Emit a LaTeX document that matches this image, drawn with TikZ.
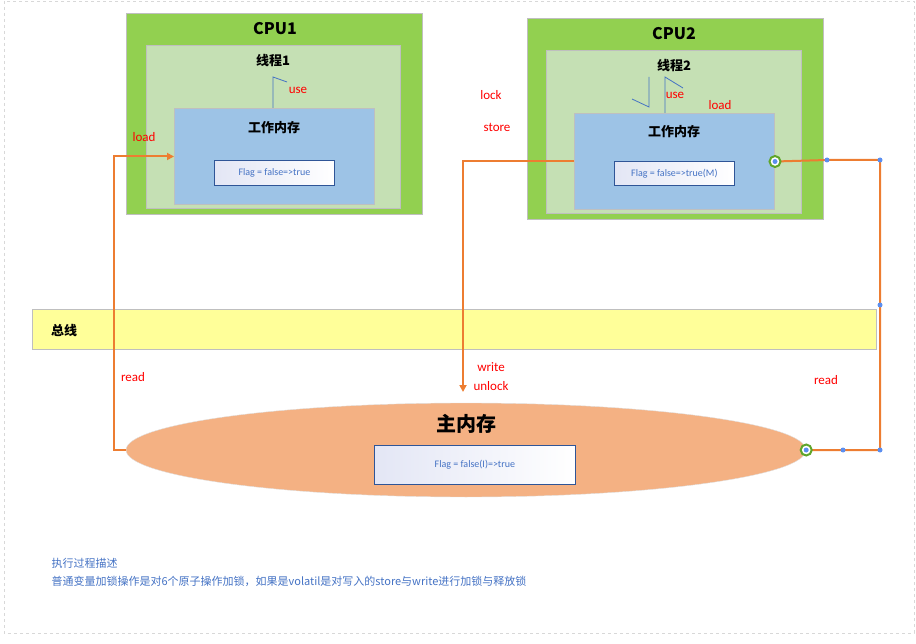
\documentclass[tikz,border=0pt]{standalone}
\usepackage{fontspec}
\setmainfont{Carlito}
\newfontfamily\cjk{Noto Sans CJK SC}
\usetikzlibrary{arrows.meta,shapes.geometric}
\definecolor{cpugreen}{HTML}{92D050}
\definecolor{thgreen}{HTML}{C5E0B4}
\definecolor{wmblue}{HTML}{9DC3E6}
\definecolor{bordergray}{HTML}{BFBFBF}
\definecolor{busyellow}{HTML}{FFFF99}
\definecolor{memorange}{HTML}{F4B183}
\definecolor{orng}{HTML}{ED7D31}
\definecolor{txtblue}{HTML}{4472C4}
\definecolor{flagblue}{HTML}{2F5597}
\definecolor{dotblue}{HTML}{5B8FF0}
\definecolor{ringgreen}{HTML}{5FA52A}
\definecolor{lav}{HTML}{E3E6F5}
\tikzset{
  box/.style={draw=bordergray, line width=1pt, anchor=north west, inner sep=0pt},
  flagbox/.style={draw=flagblue, line width=0.8pt, anchor=north west, inner sep=0pt,
     left color=lav, right color=white},
  flagtxt/.style={font=\fontsize{10}{12}\selectfont, text=txtblue},
  title/.style={font=\cjk\bfseries\fontsize{16}{18}\selectfont},
  sub/.style={font=\cjk\bfseries\fontsize{13}{15}\selectfont},
  redlbl/.style={text=red, font=\fontsize{13}{15}\selectfont},
  desc/.style={anchor=west, text=txtblue, font=\cjk\fontsize{11}{13}\selectfont},
  conn/.style={draw=orng, line width=2pt},
  thin/.style={draw=txtblue, line width=0.8pt},
  dot/.style={circle, fill=dotblue, inner sep=0pt, minimum size=5pt},
  ring/.style={circle, draw=ringgreen, fill=white, line width=2pt, inner sep=0pt, minimum size=11pt},
}
\begin{document}
\begin{tikzpicture}[x=1pt,y=-1pt]
\useasboundingbox (0,0) rectangle (916,644);
\draw[bordergray!60, dashed, line width=0.8pt] (4,1) rectangle (914,633);

% CPU1
\node (cpu1) [box, fill=cpugreen, minimum width=296pt, minimum height=201pt] at (126,13) {};
\node (th1) [box, fill=thgreen, minimum width=254pt, minimum height=163pt] at (146,45) {};
\node (wm1) [box, fill=wmblue, minimum width=200pt, minimum height=96pt] at (174,108) {};
\node (cpu1t) [title] at (275,29) {CPU1};
\node (th1t) [sub] at (273,61) {线程1};
\node (wm1t) [sub] at (274,128) {工作内存};
\node (f1) [flagbox, minimum width=120pt, minimum height=25pt] at (214,160) {};
\node (f1t) [flagtxt] at (f1.center) {Flag = false=>true};
\coordinate (u1a) at (273,77);
\coordinate (u1b) at (287,82);
\draw[thin] (wm1.north -| u1a) -- (u1a) -- (u1b);
\node (use1) [redlbl] at (298,90) {use};
\node (load1) [redlbl] at (144,137) {load};

% CPU2
\node (cpu2) [box, fill=cpugreen, minimum width=296pt, minimum height=201pt] at (527,18) {};
\node (th2) [box, fill=thgreen, minimum width=255pt, minimum height=163pt] at (546,50) {};
\node (wm2) [box, fill=wmblue, minimum width=200pt, minimum height=96pt] at (574,113) {};
\node (cpu2t) [title] at (674,34) {CPU2};
\node (th2t) [sub] at (674,66) {线程2};
\node (wm2t) [sub] at (674,132) {工作内存};
\node (f2) [flagbox, minimum width=120pt, minimum height=24pt] at (614,161) {};
\node (f2t) [flagtxt] at (f2.center) {Flag = false=>true(M)};
\coordinate (l2a) at (632,99);
\coordinate (l2b) at (649,107);
\coordinate (l2c) at (649,77);
\draw[thin] (l2a) -- (l2b) -- (l2c);
\coordinate (u2a) at (665,77);
\coordinate (u2b) at (683,88);
\draw[thin] (wm2.north -| u2a) -- (u2a) -- (u2b);
\node (use2) [redlbl] at (675,95) {use};
\node (load2) [redlbl] at (720,105) {load};
\node (lock) [redlbl] at (491,95) {lock};
\node (store) [redlbl] at (497,127) {store};

% bus
\node (bus) [box, fill=busyellow, minimum width=844pt, minimum height=40pt] at (32,309) {};
\node (bust) [sub] at (64,331) {总线};

% main memory
\node (mm) [ellipse, fill=memorange, draw=black!12, minimum width=680pt, minimum height=94pt, inner sep=0pt] at (466,450) {};
\node (mmt) [font=\cjk\bfseries\fontsize{20}{22}\selectfont] at (466,424) {主内存};
\node (f3) [flagbox, minimum width=201pt, minimum height=39pt] at (374,445) {};
\node (f3t) [flagtxt] at (f3.center) {Flag = false(I)=>true};

% connectors
\draw[conn, -{Triangle[length=7pt,width=7pt]}] (mm.west) -- ++(-12,0) |- (wm1.west);
\node (read1) [redlbl] at (133,377) {read};

\coordinate (wend) at (463,392);
\draw[conn, -{Triangle[length=7pt,width=7pt]}] (wm2.west) -| (wend);
\node (write) [redlbl] at (491,367) {write};
\node (unlock) [redlbl] at (491,386) {unlock};

\coordinate (p1) at (843,450);
\coordinate (p2) at (880,450);
\coordinate (p3) at (880,305);
\coordinate (p4) at (880,160);
\coordinate (p5) at (827,160);
\draw[conn] (mm.east) -- (p1) -- (p2) -- (p3) -- (p4) -- (p5) -- (wm2.east);
\node (read2) [redlbl] at (826,380) {read};
\foreach \p in {p1,p2,p3,p4,p5} \node[dot] at (\p) {};
\node (r1) [ring] at (mm.east) {};
\node[dot] at (r1) {};
\node (r2) [ring] at (wm2.east) {};
\node[dot] at (r2) {};

% description
\node (d1) [desc] at (48,563) {执行过程描述};
\node (d2) [desc] at (48,581) {普通变量加锁操作是对6个原子操作加锁，如果是volatil是对写入的store与write进行加锁与释放锁};
\end{tikzpicture}
\end{document}
